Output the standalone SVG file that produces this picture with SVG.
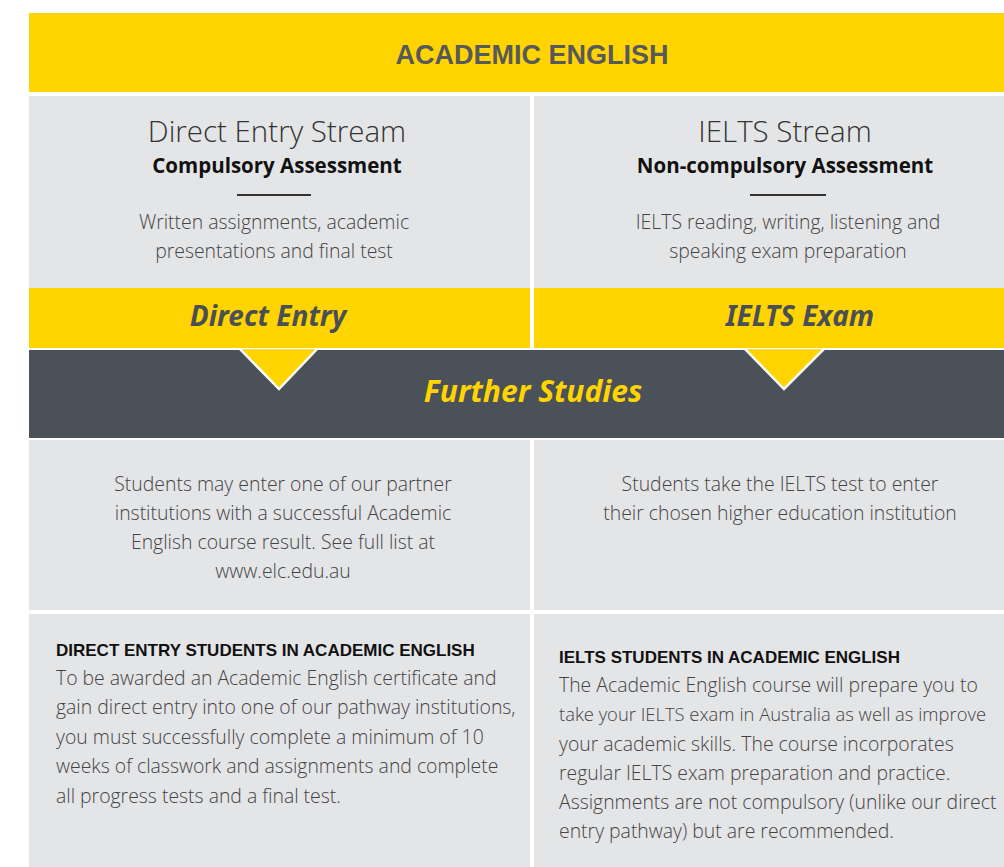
<svg xmlns="http://www.w3.org/2000/svg" width="1004" height="867" viewBox="0 0 1004 867">
<style>
.yel{fill:#FFD400}
.gry{fill:#E4E5E7}
.dark{fill:#4A5158}
.title{font-family:"Liberation Sans",Arial,sans-serif;font-weight:bold;font-size:27px;fill:#58595B;text-anchor:middle}
.stream{font-family:"Open Sans",Lato,sans-serif;font-weight:300;font-size:29.5px;fill:#333;text-anchor:middle}
.assess{font-family:"Open Sans",Lato,sans-serif;font-weight:bold;font-size:20.5px;fill:#111;text-anchor:middle}
.body{font-family:"Open Sans",Lato,sans-serif;font-weight:300;font-size:19.4px;fill:#444;}
.c{text-anchor:middle}
.band{font-family:"Noto Sans","Open Sans",sans-serif;font-weight:bold;font-style:italic;font-size:28px;fill:#4A4F55;text-anchor:middle}
.further{font-family:"Noto Sans","Open Sans",sans-serif;font-weight:bold;font-style:italic;font-size:30px;fill:#FFD400;text-anchor:middle}
.head{font-family:"Liberation Sans",Arial,sans-serif;font-weight:bold;font-size:17px;fill:#111}
</style>
<rect width="1004" height="867" fill="#fff"/>
<g id="header">
<rect class="yel" x="29" y="13" width="975" height="79"/>
<text class="title" x="532" y="64">ACADEMIC ENGLISH</text>
</g>
<g id="direct-entry-stream">
<rect class="gry" x="29" y="96" width="501" height="192"/>
<text class="stream" x="277" y="142">Direct Entry Stream</text>
<text class="assess" x="277" y="173">Compulsory Assessment</text>
<line x1="237" y1="195" x2="311" y2="195" stroke="#333" stroke-width="2"/>
<text class="body c" x="274" y="229">Written assignments, academic</text>
<text class="body c" x="274" y="258">presentations and final test</text>
</g>
<g id="ielts-stream">
<rect class="gry" x="534" y="96" width="470" height="192"/>
<text class="stream" x="785" y="142">IELTS Stream</text>
<text class="assess" x="785" y="173">Non-compulsory Assessment</text>
<line x1="750" y1="195" x2="826" y2="195" stroke="#333" stroke-width="2"/>
<text class="body c" x="788" y="229">IELTS reading, writing, listening and</text>
<text class="body c" x="788" y="258">speaking exam preparation</text>
</g>
<g id="further-studies">
<rect class="dark" x="29" y="350" width="975" height="88"/>
<text class="further" x="533" y="402">Further Studies</text>
</g>
<g id="direct-entry">
<polygon class="yel" points="239,348 318,348 279,389" stroke="#fff" stroke-width="2.5"/>
<rect class="yel" x="29" y="288" width="501" height="60"/>
<text class="band" x="268" y="326">Direct Entry</text>
</g>
<g id="ielts-exam">
<polygon class="yel" points="744,348 825,348 784,389" stroke="#fff" stroke-width="2.5"/>
<rect class="yel" x="534" y="288" width="470" height="60"/>
<text class="band" x="800" y="326">IELTS Exam</text>
</g>
<g id="connectors"></g>
<g id="partner-institutions">
<rect class="gry" x="29" y="440" width="501" height="170"/>
<text class="body c" x="283" y="491">Students may enter one of our partner</text>
<text class="body c" x="283" y="520">institutions with a successful Academic</text>
<text class="body c" x="283" y="549">English course result. See full list at</text>
<text class="body c" x="283" y="578">www.elc.edu.au</text>
</g>
<g id="ielts-test">
<rect class="gry" x="534" y="440" width="470" height="170"/>
<text class="body c" x="780" y="491">Students take the IELTS test to enter</text>
<text class="body c" x="780" y="520">their chosen higher education institution</text>
</g>
<g id="direct-entry-students">
<rect class="gry" x="29" y="614" width="501" height="253"/>
<text class="head" x="56" y="656">DIRECT ENTRY STUDENTS IN ACADEMIC ENGLISH</text>
<text class="body" x="56" y="685">To be awarded an Academic English certificate and</text>
<text class="body" x="56" y="714">gain direct entry into one of our pathway institutions,</text>
<text class="body" x="56" y="744">you must successfully complete a minimum of 10</text>
<text class="body" x="56" y="773">weeks of classwork and assignments and complete</text>
<text class="body" x="56" y="803">all progress tests and a final test.</text>
</g>
<g id="ielts-students">
<rect class="gry" x="534" y="614" width="470" height="253"/>
<text class="head" x="559" y="663">IELTS STUDENTS IN ACADEMIC ENGLISH</text>
<text class="body" x="559" y="692">The Academic English course will prepare you to</text>
<text class="body" x="559" y="721" style="font-size:18.4px">take your IELTS exam in Australia as well as improve</text>
<text class="body" x="559" y="751">your academic skills. The course incorporates</text>
<text class="body" x="559" y="780">regular IELTS exam preparation and practice.</text>
<text class="body" x="559" y="809">Assignments are not compulsory (unlike our direct</text>
<text class="body" x="559" y="838">entry pathway) but are recommended.</text>
</g>
</svg>
